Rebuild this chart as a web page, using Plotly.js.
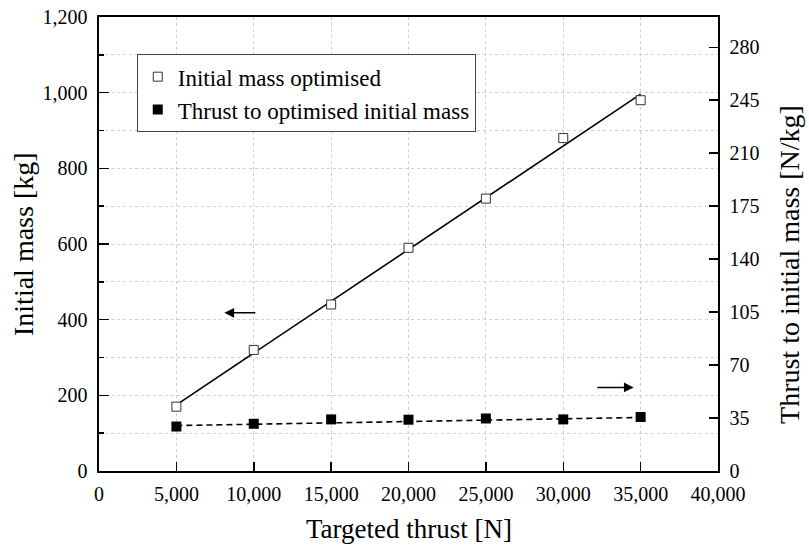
<!DOCTYPE html>
<html>
<head>
<meta charset="utf-8">
<script src="https://cdn.plot.ly/plotly-3.0.1.min.js"></script>
<style>html,body{margin:0;padding:0;background:#fff;}#chart{width:809px;height:546px;}</style>
</head>
<body>
<div id="chart"></div>
<script>
// Data
const thrust = [5000, 10000, 15000, 20000, 25000, 30000, 35000];
const initialMass = [170, 320, 440, 590, 720, 880, 980];
const thrustToMass = [29.4, 31.2, 34.1, 33.9, 34.7, 34.1, 35.7];
const fitX = [5000, 35000];
const fitMass = [175, 996];
const fitThrustToMass = [30.0, 35.4];
const xTicks = [0, 5000, 10000, 15000, 20000, 25000, 30000, 35000, 40000];
const leftTicks = [0, 200, 400, 600, 800, 1000, 1200];
const rightTicks = [0, 35, 70, 105, 140, 175, 210, 245, 280];
const xTitle = 'Targeted thrust [N]';
const leftTitle = 'Initial mass [kg]';
const rightTitle = 'Thrust to initial mass [N/kg]';

const FONT = '"Liberation Serif", "Times New Roman", Times, serif';
const fmt = v => v.toLocaleString('en-US');

const traces = [
  {x: fitX, y: fitMass, mode: 'lines', line: {color: '#000', width: 1.6}, showlegend: false, hoverinfo: 'skip'},
  {x: fitX, y: fitThrustToMass, yaxis: 'y2', mode: 'lines', line: {color: '#000', width: 1.6, dash: '6px,4px'}, showlegend: false, hoverinfo: 'skip'},
  {x: thrust, y: initialMass, mode: 'markers', name: 'Initial mass optimised',
   marker: {symbol: 'square', size: 9, color: '#fff', line: {color: '#333', width: 1}}},
  {x: thrust, y: thrustToMass, yaxis: 'y2', mode: 'markers', name: 'Thrust to optimised initial mass',
   marker: {symbol: 'square', size: 10, color: '#000', line: {color: '#000', width: 0}}}
];

const gridStyle = {gridcolor: '#cfcfcf', griddash: 'dot', gridwidth: 1};

const layout = {
  width: 809, height: 546,
  margin: {l: 99, r: 91, t: 17, b: 75},
  paper_bgcolor: '#fff', plot_bgcolor: '#fff',
  font: {family: FONT, color: '#000', size: 20},
  showlegend: true,
  legend: {x: 0.061, y: 0.918, xanchor: 'left', yanchor: 'top', bgcolor: '#fff',
           bordercolor: '#444', borderwidth: 1, font: {family: FONT, size: 23}, tracegroupgap: 0},
  xaxis: Object.assign({
    range: [0, 40000], tickvals: xTicks, ticktext: xTicks.map(fmt),
    ticks: 'inside', ticklen: 9, tickwidth: 1.5, tickcolor: '#000',
    showline: true, linecolor: '#000', linewidth: 1.6, mirror: true,
    showgrid: true, zeroline: false, tickfont: {family: FONT, size: 20},
    ticklabelstandoff: 4
  }, gridStyle),
  yaxis: {
    range: [0, 1200], tickvals: leftTicks, ticktext: leftTicks.map(fmt),
    ticks: 'inside', ticklen: 10, tickwidth: 1.5, tickcolor: '#000',
    showline: true, linecolor: '#000', linewidth: 1.6,
    showgrid: false, zeroline: false, tickfont: {family: FONT, size: 20},
    ticklabelstandoff: 6,
    minor: Object.assign({dtick: 100, ticks: 'inside', ticklen: 5, tickwidth: 1.5, tickcolor: '#000',
            showgrid: true}, gridStyle)
  },
  yaxis2: {
    overlaying: 'y', side: 'right', range: [0, 300], tickvals: rightTicks, ticktext: rightTicks.map(String),
    ticks: 'inside', ticklen: 9, tickwidth: 1.5, tickcolor: '#000',
    showline: true, linecolor: '#000', linewidth: 1.6,
    showgrid: false, zeroline: false, tickfont: {family: FONT, size: 20},
    ticklabelstandoff: 6
  },
  annotations: [
    {x: 8100, y: 418, ax: 10200, ay: 418, xref: 'x', yref: 'y', axref: 'x', ayref: 'y',
     showarrow: true, arrowhead: 2, arrowsize: 1.3, arrowwidth: 1.5, arrowcolor: '#000', text: ''},
    {x: 34550, y: 55.2, ax: 32100, ay: 55.2, xref: 'x', yref: 'y2', axref: 'x', ayref: 'y2',
     showarrow: true, arrowhead: 2, arrowsize: 1.3, arrowwidth: 1.5, arrowcolor: '#000', text: ''},
    {text: xTitle, xref: 'paper', yref: 'paper', x: 0.5, y: -0.128, xanchor: 'center', yanchor: 'middle',
     showarrow: false, font: {family: FONT, size: 27}},
    {text: leftTitle, xref: 'paper', yref: 'paper', x: -0.1228, y: 0.5, xanchor: 'center', yanchor: 'middle',
     textangle: -90, showarrow: false, font: {family: FONT, size: 28}},
    {text: rightTitle, xref: 'paper', yref: 'paper', x: 1.1163, y: 0.456, xanchor: 'center', yanchor: 'middle',
     textangle: -90, showarrow: false, font: {family: FONT, size: 28}}
  ]
};

Plotly.newPlot('chart', traces, layout, {displayModeBar: false, staticPlot: true});
</script>
</body>
</html>
